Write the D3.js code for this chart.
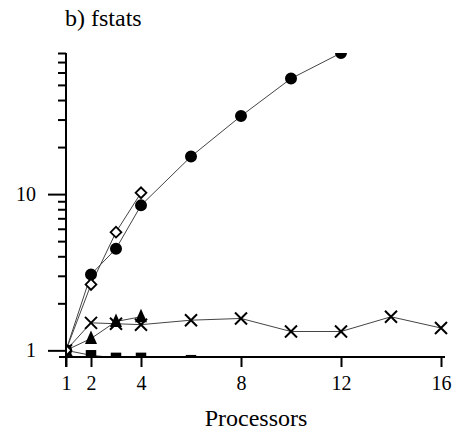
<!DOCTYPE html>
<html>
<head>
<meta charset="utf-8">
<script src="https://cdnjs.cloudflare.com/ajax/libs/d3/7.8.5/d3.min.js"></script>
<style>
  body { margin: 0; background: #fff; }
</style>
</head>
<body>
<svg id="chart"></svg>
<script>
var viewWidth = 454;
var viewHeight = 432;
var serif = "'Liberation Serif', 'Times New Roman', Times, 'DejaVu Serif', serif";

// data
var procsCircle = [1, 2, 3, 4, 6, 8, 10, 12];
var valsCircle = [1, 3.06, 4.47, 8.47, 17.4, 31.6, 54.9, 80];
var procsDiamond = [1, 2, 3, 4];
var valsDiamond = [1, 2.64, 5.71, 10.2];
var procsTriangle = [1, 2, 3, 4];
var valsTriangle = [1, 1.19, 1.53, 1.64];
var procsCross = [1, 2, 3, 4, 6, 8, 10, 12, 14, 16];
var valsCross = [1, 1.5, 1.48, 1.46, 1.56, 1.6, 1.32, 1.32, 1.64, 1.39];
var procsSquare = [1, 2, 3, 4, 6];
var valsSquare = [1, 0.93, 0.895, 0.895, 0.865];

var xTicks = [1, 2, 4, 8, 12, 16];
var yMajor = [1, 10];
var yTicks = [1, 2, 3, 4, 5, 6, 7, 8, 9, 10, 20, 30, 40, 50, 60, 70, 80];

var margin = {top: 53, right: 13, bottom: 75, left: 66};
var width = viewWidth - margin.left - margin.right;
var height = viewHeight - margin.top - margin.bottom;

var svg = d3.select("#chart")
    .attr("width", viewWidth)
    .attr("height", viewHeight);

var g = svg.append("g")
    .attr("transform", "translate(" + margin.left + "," + margin.top + ")");

var x = d3.scaleLinear().domain([1, 16]).range([0, 375]);
var y = d3.scaleLog().domain([0.9, 80]).range([height + 0.5, 0]);

svg.append("text")
    .attr("x", 65)
    .attr("y", 26)
    .style("font-family", serif)
    .style("font-size", "24px")
    .text("b) fstats");

// clip
g.append("clipPath").attr("id", "plotclip")
  .append("rect")
    .attr("x", 0).attr("y", 0)
    .attr("width", x(16) + 8).attr("height", height);

var plot = g.append("g").attr("clip-path", "url(#plotclip)");

function zip(xs, ys) {
  return xs.map(function(d, i) { return {x: d, y: ys[i]}; });
}

var series = [
  {data: zip(procsSquare, valsSquare), shape: "square"},
  {data: zip(procsCross, valsCross), shape: "cross"},
  {data: zip(procsTriangle, valsTriangle), shape: "triangle"},
  {data: zip(procsCircle, valsCircle), shape: "circle"},
  {data: zip(procsDiamond, valsDiamond), shape: "diamond"}
];

var line = d3.line()
    .x(function(d) { return x(d.x); })
    .y(function(d) { return y(d.y); });

series.forEach(function(s) {
  plot.append("path")
      .datum(s.data)
      .attr("d", line)
      .attr("fill", "none")
      .attr("stroke", "#444")
      .attr("stroke-width", 1);
});

var shapes = {
  circle: d3.symbol().type(d3.symbolCircle).size(113),
  square: d3.symbol().type(d3.symbolSquare).size(110),
  triangle: "M0,-8L6,5.5L-6,5.5Z",
  diamond: d3.symbol().type(d3.symbolSquare).size(58)
};

series.forEach(function(s) {
  var pts = plot.selectAll(".pt-" + s.shape)
      .data(s.data)
    .enter().append("path")
      .attr("class", "pt-" + s.shape);
  if (s.shape === "cross") {
    pts.attr("d", "M-6,-6L6,6M-6,6L6,-6")
      .attr("transform", function(d) { return "translate(" + x(d.x) + "," + y(d.y) + ")"; })
      .attr("stroke", "#000")
      .attr("stroke-width", 2)
      .attr("fill", "none");
  } else if (s.shape === "diamond") {
    pts.attr("d", shapes.diamond)
      .attr("transform", function(d) { return "translate(" + x(d.x) + "," + y(d.y) + ") rotate(45)"; })
      .attr("fill", "#fff")
      .attr("stroke", "#000")
      .attr("stroke-width", 1.8);
  } else {
    pts.attr("d", shapes[s.shape])
      .attr("transform", function(d) { return "translate(" + x(d.x) + "," + y(d.y) + ")"; })
      .attr("fill", "#000");
  }
});

// x axis
var xAxis = d3.axisBottom(x)
    .tickValues(xTicks)
    .tickSize(10)
    .tickSizeOuter(0)
    .tickPadding(9)
    .tickFormat(d3.format("d"));

var xg = g.append("g")
    .attr("class", "x axis")
    .attr("transform", "translate(0," + height + ")")
    .call(xAxis);
xg.select(".domain").attr("d", "M-7,0H379");
xg.selectAll("path, line").attr("stroke", "#000").attr("stroke-width", 2);
xg.selectAll("text")
    .attr("fill", "#000")
    .style("font-family", serif)
    .style("font-size", "20px");

// y axis
var yAxis = d3.axisLeft(y)
    .tickValues(yTicks)
    .tickSize(8)
    .tickSizeOuter(0)
    .tickFormat(function(d) { return yMajor.indexOf(d) >= 0 ? d : ""; });

var yg = g.append("g")
    .attr("class", "y axis")
    .call(yAxis);
yg.select(".domain").attr("d", "M0,0V" + (height + 10));
yg.selectAll("path, line").attr("stroke", "#000").attr("stroke-width", 2);
yg.selectAll(".tick")
    .filter(function(d) { return yMajor.indexOf(d) >= 0; })
    .select("line").attr("x2", -18);
yg.selectAll("text")
    .attr("x", -30)
    .attr("fill", "#000")
    .style("font-family", serif)
    .style("font-size", "20px");

svg.append("text")
    .attr("x", 256)
    .attr("y", 426)
    .attr("text-anchor", "middle")
    .style("font-family", serif)
    .style("font-size", "24px")
    .text("Processors");
</script>
</body>
</html>
